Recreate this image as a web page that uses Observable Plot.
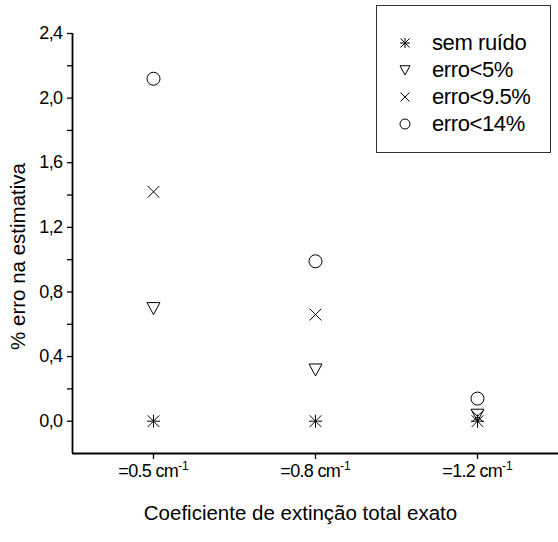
<!DOCTYPE html>
<html><head><meta charset="utf-8">
<script src="https://cdn.jsdelivr.net/npm/d3@7"></script>
<script src="https://cdn.jsdelivr.net/npm/@observablehq/plot@0.6"></script>
<style>
body{margin:0;background:#fff;font-family:Arial,"Liberation Sans",sans-serif;}
#wrap{position:relative;width:558px;height:542px;overflow:hidden;}
#legend{position:absolute;left:376px;top:5px;width:175px;height:148px;border:1px solid #333;box-sizing:border-box;background:#fff;}
.row{position:absolute;left:0;height:26px;display:flex;align-items:center;}
.row svg{margin-left:22px;}
.row span{margin-left:21px;font-size:22px;color:#000;letter-spacing:-0.4px;}
</style></head><body><div id="wrap"></div>
<script>
const categories = [1, 2, 3];
const tickLabels = ["=0.5 cm", "=0.8 cm", "=1.2 cm"];
const seriesNames = ["sem ruído", "erro<5%", "erro<9.5%", "erro<14%"];
const semRuido = [0, 0, 0];
const erro5 = [0.70, 0.32, 0.04];
const erro95 = [1.42, 0.66, 0.03];
const erro14 = [2.12, 0.99, 0.14];
const yTicks = [0, 0.4, 0.8, 1.2, 1.6, 2.0, 2.4];
const yMinor = [0.2, 0.6, 1.0, 1.4, 1.8, 2.2];

const rad = s => Math.sqrt(s / Math.PI);
const asterisk8 = {draw(c, s){const r = rad(s), d = r*0.9;
  c.moveTo(0,-r); c.lineTo(0,r); c.moveTo(-r,0); c.lineTo(r,0);
  c.moveTo(-d,-d); c.lineTo(d,d); c.moveTo(-d,d); c.lineTo(d,-d);}};
const triDown = {draw(c, s){const r = rad(s);
  c.moveTo(-r,-0.85*r); c.lineTo(r,-0.85*r); c.lineTo(0,r); c.closePath();}};
const timesS = {draw(c, s){const r = rad(s)*0.9;
  c.moveTo(-r,-r); c.lineTo(r,r); c.moveTo(-r,r); c.lineTo(r,-r);}};
const circleS = {draw(c, s){const r = rad(s); c.moveTo(r,0); c.arc(0,0,r,0,2*Math.PI);}};
const symbols = [asterisk8, triDown, timesS, circleS];
const seriesValues = [semRuido, erro5, erro95, erro14];

const pts = arr => categories.map((c, i) => ({x: c, y: arr[i]}));
const fmt = d => d3.format(".1f")(d).replace(".", ",");

const chart = Plot.plot({
  width: 558, height: 542,
  marginLeft: 72, marginTop: 33, marginBottom: 89, marginRight: 0,
  style: {fontFamily: "Arial, 'Liberation Sans', sans-serif", fontSize: "18px", color: "#000", background: "#fff"},
  x: {type: "linear", domain: [0.5, 3.5]},
  y: {domain: [-0.2, 2.4]},
  marks: [
    Plot.axisY(yTicks, {tickFormat: fmt, tickSize: 5, tickPadding: 5, fontSize: 18, label: null, strokeWidth: 1.3}),
    Plot.axisY(yMinor, {tickFormat: () => "", tickSize: 5, label: null, strokeWidth: 1.3}),
    Plot.axisX(categories, {tickFormat: d => tickLabels[categories.indexOf(d)], tickSize: 6, tickPadding: 5, fontSize: 18, label: null, strokeWidth: 1.3}),
    Plot.ruleX([0.5], {strokeWidth: 1.8}),
    Plot.ruleY([-0.2], {strokeWidth: 1.8}),
    ...seriesValues.map((arr, k) => Plot.dot(pts(arr), {x: "x", y: "y", symbol: symbols[k], r: 6.5, stroke: "#000", strokeWidth: 1, fill: "none"})),
    Plot.text(["% erro na estimativa"], {frameAnchor: "left", textAnchor: "middle", lineAnchor: "middle", rotate: -90, dx: -54, dy: 13, fontSize: 20.5}),
    Plot.text(["Coeficiente de extinção total exato"], {frameAnchor: "bottom", textAnchor: "middle", lineAnchor: "middle", dx: -15, dy: 60, fontSize: 20.5})
  ]
});

d3.select(chart).selectAll('g[aria-label="y-axis tick label"] text').attr("letter-spacing", "-0.6px");
d3.select(chart).selectAll('g[aria-label="x-axis tick label"] text').each(function() {
  const t = this.textContent;
  this.textContent = "";
  const s = d3.select(this);
  s.append("tspan").attr("letter-spacing", "-0.7px").text(t);
  s.append("tspan").attr("dy", "-0.6em").attr("font-size", "12px").text("-1");
});

const wrap = document.getElementById("wrap");
wrap.appendChild(chart);

const legend = document.createElement("div");
legend.id = "legend";
wrap.appendChild(legend);
const rowTops = [24, 51, 78, 105];
seriesNames.forEach((name, k) => {
  const row = document.createElement("div");
  row.className = "row";
  row.style.top = rowTops[k] + "px";
  const svg = d3.create("svg").attr("width", 12).attr("height", 12).attr("viewBox", "-6 -6 12 12");
  svg.append("path").attr("d", d3.symbol(symbols[k], Math.PI * 5 * 5)()).attr("fill", "none").attr("stroke", "#000").attr("stroke-width", 1);
  row.appendChild(svg.node());
  const sp = document.createElement("span");
  sp.textContent = name;
  row.appendChild(sp);
  legend.appendChild(row);
});
</script>
</body></html>
